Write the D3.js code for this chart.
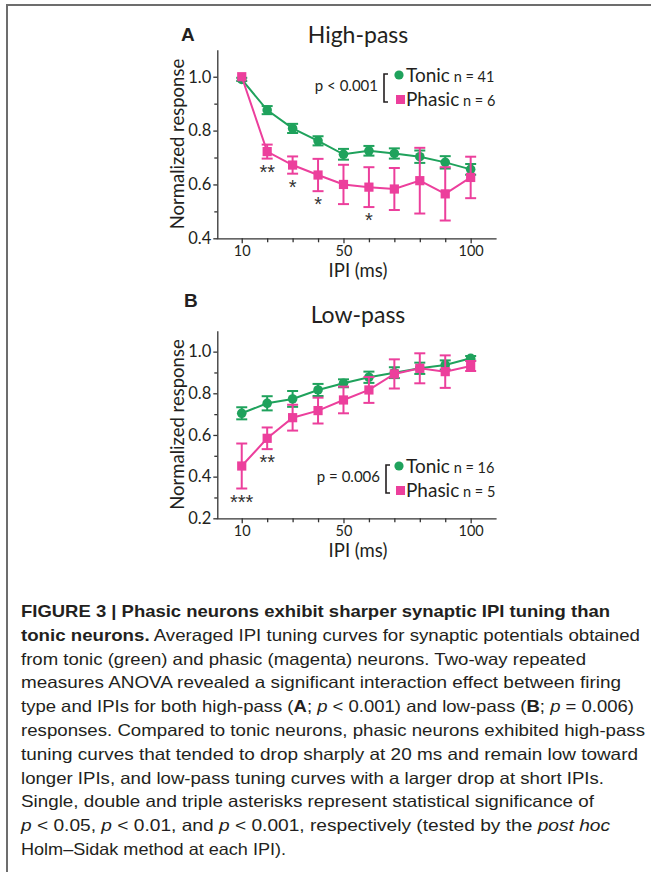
<!DOCTYPE html>
<html>
<head>
<meta charset="utf-8">
<script src="https://cdn.jsdelivr.net/npm/d3@7"></script>
<style>
  body { margin: 0; background: #fff; }
  svg text { font-family: Lato, "Open Sans", sans-serif; fill: #231f20; }
  .cap text { font-family: "Liberation Sans Narrow", "Liberation Sans", Arial, sans-serif; white-space: pre; }
</style>
</head>
<body>
<svg id="fig" width="651" height="872"></svg>
<script>
// values (IPI in ms, normalized response, SEM)
var ipi = [10, 20, 30, 40, 50, 60, 70, 80, 90, 100];

var tonicHigh     = [0.990, 0.876, 0.808, 0.762, 0.712, 0.725, 0.715, 0.703, 0.682, 0.656];
var tonicHighErr  = [0.006, 0.015, 0.017, 0.017, 0.020, 0.018, 0.019, 0.023, 0.023, 0.020];
var phasicHigh    = [1.000, 0.722, 0.672, 0.635, 0.600, 0.590, 0.583, 0.614, 0.565, 0.626];
var phasicHighErr = [0.000, 0.026, 0.032, 0.060, 0.073, 0.074, 0.078, 0.122, 0.099, 0.077];

var tonicLow      = [0.704, 0.752, 0.773, 0.816, 0.848, 0.877, 0.899, 0.920, 0.936, 0.968];
var tonicLowErr   = [0.029, 0.034, 0.038, 0.029, 0.019, 0.027, 0.026, 0.027, 0.022, 0.011];
var phasicLow     = [0.451, 0.584, 0.683, 0.717, 0.768, 0.816, 0.893, 0.920, 0.904, 0.931];
var phasicLowErr  = [0.108, 0.052, 0.062, 0.062, 0.064, 0.062, 0.070, 0.072, 0.078, 0.024];

var starIpiHigh = [20, 30, 40, 60], starHigh = ["**", "*", "*", "*"];
var starIpiLow  = [10, 20],         starLow  = ["***", "**"];

var xTickLabels = [10, 50, 100], xMinorTicks = [20, 30, 40, 60, 70, 80, 90];
var yTicksHigh = [0.4, 0.6, 0.8, 1.0], yMinorHigh = [0.5, 0.7, 0.9];
var yTicksLow  = [0.2, 0.4, 0.6, 0.8, 1.0], yMinorLow = [0.3, 0.5, 0.7, 0.9];

var GREEN = "#1fa25c", MAGENTA = "#ec3f9c", AXIS = "#333";

var svg = d3.select("#fig");

// frame (top and left rules)
svg.append("path")
  .attr("d", "M7,872V5H651")
  .attr("fill", "none").attr("stroke", "#6d6d6d").attr("stroke-width", 2);

function panel(o) {
  var x = d3.scaleLinear().domain([0, 110]).range([216.3, 496.1]);
  var y = d3.scaleLinear().domain(o.yDomain).range(o.yRange);
  var g = svg.append("g");

  // x axis
  var xa = g.append("g").attr("transform", "translate(0," + o.yRange[0] + ")")
    .call(d3.axisBottom(x).tickValues(xTickLabels).tickSize(5).tickSizeOuter(0).tickPadding(2));
  g.append("g").attr("transform", "translate(0," + o.yRange[0] + ")")
    .call(d3.axisBottom(x).tickValues(xMinorTicks).tickSize(4).tickSizeOuter(0).tickFormat(""))
    .select(".domain").remove();

  // y axis
  var ya = g.append("g").attr("transform", "translate(217.3,0)")
    .call(d3.axisLeft(y).tickValues(o.yTicks).tickSize(4).tickSizeOuter(0).tickPadding(2)
      .tickFormat(d3.format(".1f")));
  g.append("g").attr("transform", "translate(217.3,0)")
    .call(d3.axisLeft(y).tickValues(o.yMinor).tickSize(3).tickSizeOuter(0).tickFormat(""))
    .select(".domain").remove();

  g.selectAll(".domain, .tick line").attr("stroke", AXIS).attr("stroke-width", 1.3);
  g.selectAll("g").attr("font-family", null).attr("font-size", null);
  xa.selectAll("text").style("font-size", "14.5px").attr("fill", "#231f20");
  ya.selectAll("text").style("font-size", "16.5px").attr("fill", "#231f20");

  // labels
  g.append("text").attr("x", 358).attr("y", o.yRange[0] + 38.5)
    .attr("text-anchor", "middle").style("font-size", "18.5px").text("IPI (ms)");
  g.append("text")
    .attr("transform", "translate(184," + (o.yRange[0] + o.yRange[1]) / 2 + ") rotate(-90)")
    .attr("text-anchor", "middle").style("font-size", "18.5px").text("Normalized response");
  g.append("text").attr("x", 358).attr("y", o.titleY)
    .attr("text-anchor", "middle").style("font-size", "23px").text(o.title);
  g.append("text").attr("x", o.letterX).attr("y", o.letterY)
    .style("font-family", "'Liberation Sans', Arial, sans-serif")
    .style("font-weight", "bold").style("font-size", "19px").text(o.letter);

  var line = d3.line().x(function (d) { return x(d[0]); }).y(function (d) { return y(d[1]); });

  function series(vals, errs, color, shape) {
    var s = g.append("g");
    s.append("path").datum(d3.zip(ipi, vals))
      .attr("d", line).attr("fill", "none").attr("stroke", color).attr("stroke-width", 2);
    var eb = s.selectAll(".eb").data(d3.zip(ipi, vals, errs)).enter().append("g")
      .attr("stroke", color).attr("stroke-width", 2);
    eb.append("line")
      .attr("x1", function (d) { return x(d[0]); }).attr("x2", function (d) { return x(d[0]); })
      .attr("y1", function (d) { return y(d[1] - d[2]); }).attr("y2", function (d) { return y(d[1] + d[2]); });
    [-1, 1].forEach(function (sg) {
      eb.filter(function (d) { return d[2] > 0.004; }).append("line")
        .attr("x1", function (d) { return x(d[0]) - 5.5; }).attr("x2", function (d) { return x(d[0]) + 5.5; })
        .attr("y1", function (d) { return y(d[1] + sg * d[2]); }).attr("y2", function (d) { return y(d[1] + sg * d[2]); });
    });
    if (shape === "circle") {
      s.selectAll("circle").data(d3.zip(ipi, vals)).enter().append("circle")
        .attr("cx", function (d) { return x(d[0]); }).attr("cy", function (d) { return y(d[1]); })
        .attr("r", 4.8).attr("fill", color);
    } else {
      s.selectAll("rect").data(d3.zip(ipi, vals)).enter().append("rect")
        .attr("x", function (d) { return x(d[0]) - 4.6; }).attr("y", function (d) { return y(d[1]) - 4.6; })
        .attr("width", 9.2).attr("height", 9.2).attr("fill", color);
    }
  }
  series(o.tonic, o.tonicErr, GREEN, "circle");
  series(o.phasic, o.phasicErr, MAGENTA, "square");

  // significance asterisks below the phasic error bars
  g.selectAll(".star").data(d3.zip(o.starIpi, o.stars)).enter().append("text")
    .attr("x", function (d) { return x(d[0]); })
    .attr("y", function (d) {
      var i = ipi.indexOf(d[0]);
      return y(o.phasic[i] - o.phasicErr[i]) + 20;
    })
    .attr("text-anchor", "middle")
    .style("font-family", "'Liberation Sans', Arial, sans-serif")
    .style("font-size", "20px").style("fill", "#333")
    .text(function (d) { return d[1]; });

  // legend
  var lg = g.append("g");
  lg.append("text").attr("x", o.pRight).attr("y", o.legY + 18).attr("text-anchor", "end")
    .style("font-size", "15px").text(o.pText);
  lg.append("path")
    .attr("d", "M" + (o.pRight + 10) + "," + (o.legY + 1) + "h-4v28h4")
    .attr("fill", "none").attr("stroke", "#231f20").attr("stroke-width", 1.6);
  lg.append("circle").attr("cx", 399).attr("cy", o.legY + 2).attr("r", 4.6).attr("fill", GREEN);
  lg.append("rect").attr("x", 396).attr("y", o.legY + 22).attr("width", 9).attr("height", 9).attr("fill", MAGENTA);
  var t1 = lg.append("text").attr("x", 406).attr("y", o.legY + 9);
  t1.append("tspan").style("font-size", "19px").text("Tonic");
  t1.append("tspan").style("font-size", "14.5px").text(" n = " + o.nTonic);
  var t2 = lg.append("text").attr("x", 406).attr("y", o.legY + 33);
  t2.append("tspan").style("font-size", "19px").text("Phasic");
  t2.append("tspan").style("font-size", "14.5px").text(" n = " + o.nPhasic);
}

panel({
  yDomain: [0.4, 1.1], yRange: [238.3, 49.8], yTicks: yTicksHigh, yMinor: yMinorHigh,
  title: "High-pass", titleY: 43, letter: "A", letterX: 181, letterY: 41,
  tonic: tonicHigh, tonicErr: tonicHighErr, phasic: phasicHigh, phasicErr: phasicHighErr,
  starIpi: starIpiHigh, stars: starHigh,
  pText: "p < 0.001", pRight: 378, legY: 73, nTonic: 41, nPhasic: 6
});

panel({
  yDomain: [0.2, 1.1], yRange: [518.3, 330.8], yTicks: yTicksLow, yMinor: yMinorLow,
  title: "Low-pass", titleY: 323, letter: "B", letterX: 184, letterY: 307,
  tonic: tonicLow, tonicErr: tonicLowErr, phasic: phasicLow, phasicErr: phasicLowErr,
  starIpi: starIpiLow, stars: starLow,
  pText: "p = 0.006", pRight: 380, legY: 464, nTonic: 16, nPhasic: 5
});

// caption: [text, style] pieces per line, with the measured right edge of each line
var captionLines = [
  [["FIGURE 3 | Phasic neurons exhibit sharper synaptic IPI tuning than", "b"]],
  [["tonic neurons.", "b"], [" Averaged IPI tuning curves for synaptic potentials obtained", ""]],
  [["from tonic (green) and phasic (magenta) neurons. Two-way repeated", ""]],
  [["measures ANOVA revealed a significant interaction effect between firing", ""]],
  [["type and IPIs for both high-pass (", ""], ["A", "b"], ["; ", ""], ["p", "i"], [" < 0.001) and low-pass (", ""],
   ["B", "b"], ["; ", ""], ["p", "i"], [" = 0.006)", ""]],
  [["responses. Compared to tonic neurons, phasic neurons exhibited high-pass", ""]],
  [["tuning curves that tended to drop sharply at 20 ms and remain low toward", ""]],
  [["longer IPIs, and low-pass tuning curves with a larger drop at short IPIs.", ""]],
  [["Single, double and triple asterisks represent statistical significance of", ""]],
  [["p", "i"], [" < 0.05, ", ""], ["p", "i"], [" < 0.01, and ", ""], ["p", "i"],
   [" < 0.001, respectively (tested by the ", ""], ["post hoc", "i"]],
  [["Holm\u2013Sidak method at each IPI).", ""]]
];
var captionEnds = [610, 640, 586, 621, 634, 645, 638, 604, 594, 610, 286];

var cap = svg.append("g").attr("class", "cap");
captionLines.forEach(function (ln, i) {
  var t = cap.append("text").attr("x", 21).attr("y", 617 + i * 23.8)
    .style("font-size", "16.5px")
    .attr("textLength", captionEnds[i] - 21).attr("lengthAdjust", "spacingAndGlyphs");
  ln.forEach(function (p) {
    t.append("tspan").text(p[0])
      .style("font-weight", p[1] === "b" ? "bold" : null)
      .style("font-style", p[1] === "i" ? "italic" : null);
  });
});
</script>
</body>
</html>
